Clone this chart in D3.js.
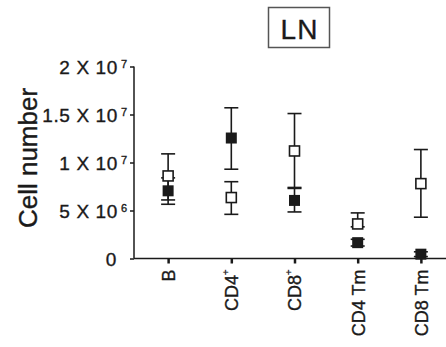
<!DOCTYPE html>
<html>
<head>
<meta charset="utf-8">
<script src="https://cdn.jsdelivr.net/npm/d3@7"></script>
<style>
  body { margin: 0; background: #fff; }
  svg { display: block; font-family: "Liberation Sans", Arial, sans-serif; }
  text { stroke: #1a1a1a; stroke-width: 0.35px; }
</style>
</head>
<body>
<svg width="446" height="347"></svg>
<script>
  // categories and their superscripts
  const categories = ["B", "CD4", "CD8", "CD4 Tm", "CD8 Tm"];
  const superscripts = ["", "+", "+", "", ""];

  // open squares (values in millions of cells)
  const openMean = [8.6, 6.35, 11.2, 3.6, 7.8];
  const openLow = [6.1, 4.6, 7.3, 3.3, 4.3];
  const openHigh = [10.9, 8.0, 15.1, 4.75, 11.35];

  // filled squares
  const filledMean = [7.05, 12.55, 6.05, 1.65, 0.45];
  const filledLow = [5.65, 9.3, 4.85, 1.3, 0.2];
  const filledHigh = [8.4, 15.7, 7.4, 2.0, 0.7];

  // y ticks: mantissa label and exponent
  const yTicks = [0, 5, 10, 15, 20];
  const yTickBase = ["0", "5 X 10", "1 X 10", "1.5 X 10", "2 X 10"];
  const yTickExp = ["", "6", "7", "7", "7"];

  const svg = d3.select("svg");
  const ink = "#1a1a1a";

  const x = d3.scalePoint()
    .domain(categories)
    .range([134, 455])
    .padding(0.54);

  const y = d3.scaleLinear()
    .domain([0, 20])
    .range([258.5, 66.5]);

  // title box
  svg.append("rect")
    .attr("x", 268.5).attr("y", 7.5)
    .attr("width", 61).attr("height", 40)
    .attr("fill", "none").attr("stroke", "#555").attr("stroke-width", 1.5);
  svg.append("text")
    .attr("x", 299.5).attr("y", 39)
    .attr("text-anchor", "middle")
    .attr("font-size", 28).attr("letter-spacing", 1)
    .attr("fill", ink)
    .text("LN");

  // y axis
  const yAxis = svg.append("g")
    .attr("transform", "translate(134,0)")
    .call(d3.axisLeft(y).tickValues(yTicks).tickSize(4).tickFormat(""));
  yAxis.select(".domain").attr("stroke", ink).attr("stroke-width", 1.5)
    .attr("d", `M0,${y(20)}V${y(0)}`);
  yAxis.selectAll(".tick line").attr("stroke", ink).attr("stroke-width", 1.5);
  yAxis.selectAll(".tick").each(function (d, i) {
    const t = d3.select(this).append("text")
      .attr("x", i === 0 ? -17 : -7)
      .attr("dy", "0.36em")
      .attr("text-anchor", "end")
      .attr("fill", ink)
      .attr("font-size", 19)
      .attr("letter-spacing", 0.6)
      .attr("font-family", "Liberation Sans, Arial, sans-serif");
    t.append("tspan").text(yTickBase[i]);
    if (yTickExp[i]) {
      t.append("tspan")
        .attr("font-size", 11)
        .attr("dx", 3)
        .attr("dy", "-0.55em")
        .attr("letter-spacing", 0)
        .text(yTickExp[i]);
    }
  });

  // x axis
  const xAxis = svg.append("g")
    .attr("transform", `translate(0,${y(0)})`)
    .call(d3.axisBottom(x).tickSize(5).tickFormat(""));
  xAxis.select(".domain").attr("stroke", ink).attr("stroke-width", 1.5)
    .attr("d", "M134,0H446");
  xAxis.selectAll(".tick line").attr("stroke", ink).attr("stroke-width", 2.5);
  xAxis.selectAll(".tick").each(function (d, i) {
    const t = d3.select(this).append("text")
      .attr("transform", "rotate(-90)")
      .attr("x", -11)
      .attr("dy", "0.36em")
      .attr("text-anchor", "end")
      .attr("fill", ink)
      .attr("font-size", 18)
      .attr("font-family", "Liberation Sans, Arial, sans-serif");
    t.append("tspan").text(d);
    if (superscripts[i]) {
      t.append("tspan")
        .attr("font-size", 9.5)
        .attr("dy", "-0.95em")
        .text(superscripts[i]);
    }
  });

  // y axis title
  svg.append("text")
    .attr("transform", "translate(37,158) rotate(-90)")
    .attr("text-anchor", "middle")
    .attr("font-size", 26)
    .attr("fill", ink)
    .text("Cell number");

  // error bars
  const bars = [];
  categories.forEach((c, i) => {
    bars.push({ c, lo: openLow[i], hi: openHigh[i] });
    bars.push({ c, lo: filledLow[i], hi: filledHigh[i] });
  });
  const eb = svg.append("g").attr("stroke", ink).attr("stroke-width", 1.6);
  eb.selectAll("line.v").data(bars).join("line")
    .attr("x1", d => x(d.c)).attr("x2", d => x(d.c))
    .attr("y1", d => y(d.lo)).attr("y2", d => y(d.hi));
  const caps = bars.flatMap(d => [{ c: d.c, v: d.lo }, { c: d.c, v: d.hi }]);
  eb.selectAll("line.cap").data(caps).join("line")
    .attr("x1", d => x(d.c) - 7).attr("x2", d => x(d.c) + 7)
    .attr("y1", d => y(d.v)).attr("y2", d => y(d.v));

  // filled squares
  const s = 11;
  svg.append("g").selectAll("rect").data(categories).join("rect")
    .attr("x", d => x(d) - s / 2)
    .attr("y", (d, i) => y(filledMean[i]) - s / 2)
    .attr("width", s).attr("height", s)
    .attr("fill", ink);

  // open squares
  const so = 10;
  svg.append("g").selectAll("rect").data(categories).join("rect")
    .attr("x", d => x(d) - so / 2)
    .attr("y", (d, i) => y(openMean[i]) - so / 2)
    .attr("width", so).attr("height", so)
    .attr("fill", "#fff").attr("stroke", ink).attr("stroke-width", 1.6);
</script>
</body>
</html>
